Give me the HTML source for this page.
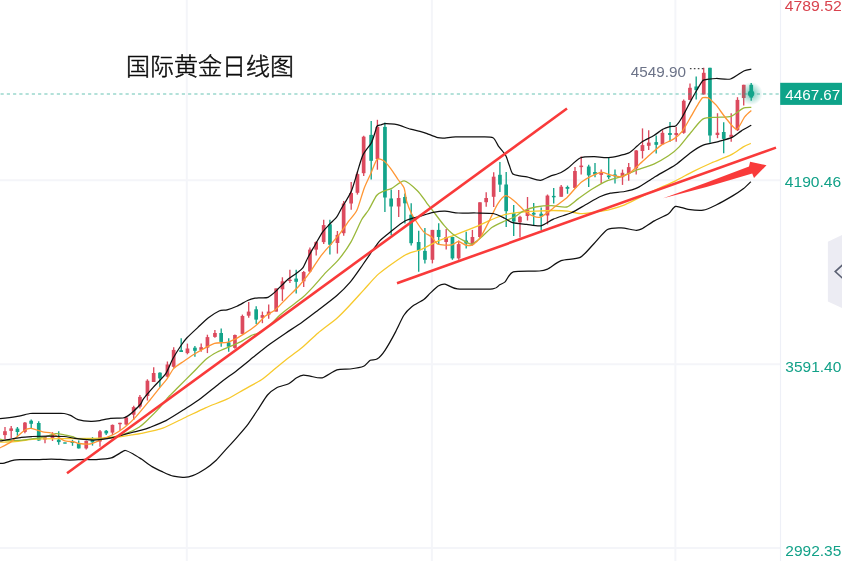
<!DOCTYPE html>
<html lang="zh-CN">
<head>
<meta charset="utf-8">
<title>国际黄金日线图</title>
<style>
html,body{margin:0;padding:0;background:#fff;}
body{width:842px;height:561px;overflow:hidden;position:relative;font-family:"Liberation Sans","Noto Sans CJK SC",sans-serif;}
svg{position:absolute;left:0;top:0;display:block;}
.title{font-family:"Liberation Sans","Noto Sans CJK SC",sans-serif;font-weight:300;font-size:24px;fill:#0d0d0d;stroke:#0d0d0d;stroke-width:0.5px;}
.ax{font-family:"Liberation Sans",sans-serif;font-size:14.5px;}
</style>
</head>
<body>
<svg width="842" height="561" viewBox="0 0 842 561">
<defs>
<radialGradient id="glow" cx="50%" cy="50%" r="50%">
<stop offset="0" stop-color="#13a48a" stop-opacity="0.6"/>
<stop offset="0.5" stop-color="#13a48a" stop-opacity="0.3"/>
<stop offset="1" stop-color="#13a48a" stop-opacity="0"/>
</radialGradient>
<filter id="gray" x="-5%" y="-5%" width="110%" height="110%" color-interpolation-filters="sRGB"><feOffset dx="0" dy="0"/></filter>
</defs>
<rect width="842" height="561" fill="#ffffff"/>

<g stroke="#f4f5f9" stroke-width="2">
<line x1="186.8" y1="0" x2="186.8" y2="561"/>
<line x1="431.9" y1="0" x2="431.9" y2="561"/>
<line x1="675.4" y1="0" x2="675.4" y2="561"/>
<line x1="0" y1="180.3" x2="780" y2="180.3"/>
<line x1="0" y1="364.3" x2="780" y2="364.3"/>
<line x1="0" y1="548.1" x2="780" y2="548.1"/>
</g>
<line x1="780.5" y1="0" x2="780.5" y2="561" stroke="#eef0f7" stroke-width="1.15"/>
<g>
<path d="M5.0,427.1V438.9" stroke="#dc4a5e" stroke-width="1.35" fill="none"/><rect x="3.1" y="431.2" width="3.7" height="3.9" fill="#dc4a5e"/>
<path d="M11.2,426.0V438.0" stroke="#dc4a5e" stroke-width="1.35" fill="none"/><rect x="9.3" y="428.4" width="3.7" height="2.5" fill="#dc4a5e"/>
<path d="M17.4,427.0V435.8" stroke="#13a48a" stroke-width="1.35" fill="none"/><rect x="15.6" y="428.6" width="3.7" height="3.4" fill="#13a48a"/>
<path d="M24.9,422.0V433.2" stroke="#dc4a5e" stroke-width="1.35" fill="none"/><rect x="23.1" y="422.6" width="3.7" height="9.3" fill="#dc4a5e"/>
<path d="M31.2,419.6V428.2" stroke="#13a48a" stroke-width="1.35" fill="none"/><rect x="29.3" y="420.7" width="3.7" height="3.1" fill="#13a48a"/>
<path d="M38.7,421.2V440.8" stroke="#13a48a" stroke-width="1.35" fill="none"/><rect x="36.9" y="423.0" width="3.7" height="17.5" fill="#13a48a"/>
<path d="M45.0,437.0V443.3" stroke="#dc4a5e" stroke-width="1.35" fill="none"/><rect x="43.1" y="437.2" width="3.7" height="2.3" fill="#dc4a5e"/>
<path d="M52.5,432.2V441.0" stroke="#dc4a5e" stroke-width="1.35" fill="none"/><rect x="50.6" y="434.8" width="3.7" height="3.2" fill="#dc4a5e"/>
<path d="M58.7,431.2V444.7" stroke="#13a48a" stroke-width="1.35" fill="none"/><rect x="56.9" y="439.6" width="3.7" height="2.5" fill="#13a48a"/>
<path d="M65.0,442.5V443.5" stroke="#13a48a" stroke-width="1.35" fill="none"/><rect x="63.1" y="442.4" width="3.7" height="1.2" fill="#13a48a"/>
<path d="M72.5,439.9V445.8" stroke="#13a48a" stroke-width="1.35" fill="none"/><rect x="70.6" y="441.2" width="3.7" height="1.8" fill="#13a48a"/>
<path d="M78.7,440.5V448.4" stroke="#13a48a" stroke-width="1.35" fill="none"/><rect x="76.9" y="443.7" width="3.7" height="4.7" fill="#13a48a"/>
<path d="M86.2,440.5V449.5" stroke="#dc4a5e" stroke-width="1.35" fill="none"/><rect x="84.4" y="441.0" width="3.7" height="7.4" fill="#dc4a5e"/>
<path d="M92.5,437.0V445.6" stroke="#13a48a" stroke-width="1.35" fill="none"/><rect x="90.6" y="439.7" width="3.7" height="2.7" fill="#13a48a"/>
<path d="M100.0,429.9V446.8" stroke="#dc4a5e" stroke-width="1.35" fill="none"/><rect x="98.1" y="431.3" width="3.7" height="10.2" fill="#dc4a5e"/>
<path d="M106.2,429.9V434.9" stroke="#13a48a" stroke-width="1.35" fill="none"/><rect x="104.4" y="430.8" width="3.7" height="2.6" fill="#13a48a"/>
<path d="M112.5,424.5V435.2" stroke="#dc4a5e" stroke-width="1.35" fill="none"/><rect x="110.6" y="424.9" width="3.7" height="7.7" fill="#dc4a5e"/>
<path d="M120.0,422.8V430.8" stroke="#dc4a5e" stroke-width="1.35" fill="none"/><rect x="118.1" y="422.8" width="3.7" height="1.4" fill="#dc4a5e"/>
<path d="M126.2,416.2V425.4" stroke="#dc4a5e" stroke-width="1.35" fill="none"/><rect x="124.4" y="417.4" width="3.7" height="7.1" fill="#dc4a5e"/>
<path d="M133.7,405.8V420.1" stroke="#dc4a5e" stroke-width="1.35" fill="none"/><rect x="131.8" y="407.1" width="3.7" height="7.6" fill="#dc4a5e"/>
<path d="M139.9,395.1V408.5" stroke="#dc4a5e" stroke-width="1.35" fill="none"/><rect x="138.1" y="396.9" width="3.7" height="9.8" fill="#dc4a5e"/>
<path d="M147.4,379.3V400.5" stroke="#dc4a5e" stroke-width="1.35" fill="none"/><rect x="145.6" y="380.7" width="3.7" height="15.3" fill="#dc4a5e"/>
<path d="M153.7,367.3V382.0" stroke="#dc4a5e" stroke-width="1.35" fill="none"/><rect x="151.8" y="373.0" width="3.7" height="9.0" fill="#dc4a5e"/>
<path d="M159.9,372.2V387.3" stroke="#13a48a" stroke-width="1.35" fill="none"/><rect x="158.1" y="372.7" width="3.7" height="5.7" fill="#13a48a"/>
<path d="M167.4,361.5V377.5" stroke="#dc4a5e" stroke-width="1.35" fill="none"/><rect x="165.6" y="364.5" width="3.7" height="12.1" fill="#dc4a5e"/>
<path d="M173.7,347.2V367.7" stroke="#dc4a5e" stroke-width="1.35" fill="none"/><rect x="171.8" y="349.9" width="3.7" height="16.9" fill="#dc4a5e"/>
<path d="M181.2,338.3V352.0" stroke="#13a48a" stroke-width="1.35" fill="none"/><rect x="179.3" y="350.2" width="3.7" height="1.8" fill="#13a48a"/>
<path d="M187.4,343.6V354.3" stroke="#dc4a5e" stroke-width="1.35" fill="none"/><rect x="185.6" y="348.5" width="3.7" height="4.6" fill="#dc4a5e"/>
<path d="M194.9,346.0V356.7" stroke="#13a48a" stroke-width="1.35" fill="none"/><rect x="193.1" y="347.7" width="3.7" height="3.1" fill="#13a48a"/>
<path d="M201.2,343.6V351.7" stroke="#dc4a5e" stroke-width="1.35" fill="none"/><rect x="199.3" y="347.2" width="3.7" height="2.7" fill="#dc4a5e"/>
<path d="M207.4,334.7V353.1" stroke="#dc4a5e" stroke-width="1.35" fill="none"/><rect x="205.6" y="337.1" width="3.7" height="10.6" fill="#dc4a5e"/>
<path d="M214.9,329.9V337.8" stroke="#dc4a5e" stroke-width="1.35" fill="none"/><rect x="213.1" y="333.0" width="3.7" height="3.9" fill="#dc4a5e"/>
<path d="M221.2,328.5V346.7" stroke="#13a48a" stroke-width="1.35" fill="none"/><rect x="219.3" y="333.0" width="3.7" height="8.9" fill="#13a48a"/>
<path d="M228.7,338.3V351.7" stroke="#13a48a" stroke-width="1.35" fill="none"/><rect x="226.8" y="342.4" width="3.7" height="4.3" fill="#13a48a"/>
<path d="M234.9,334.5V348.7" stroke="#dc4a5e" stroke-width="1.35" fill="none"/><rect x="233.1" y="335.0" width="3.7" height="12.9" fill="#dc4a5e"/>
<path d="M242.4,314.6V333.9" stroke="#dc4a5e" stroke-width="1.35" fill="none"/><rect x="240.6" y="316.0" width="3.7" height="17.9" fill="#dc4a5e"/>
<path d="M248.7,302.1V317.8" stroke="#dc4a5e" stroke-width="1.35" fill="none"/><rect x="246.8" y="311.6" width="3.7" height="4.1" fill="#dc4a5e"/>
<path d="M256.2,306.2V324.1" stroke="#13a48a" stroke-width="1.35" fill="none"/><rect x="254.3" y="309.3" width="3.7" height="10.3" fill="#13a48a"/>
<path d="M262.4,311.6V323.2" stroke="#dc4a5e" stroke-width="1.35" fill="none"/><rect x="260.6" y="315.1" width="3.7" height="2.7" fill="#dc4a5e"/>
<path d="M268.7,304.4V318.7" stroke="#dc4a5e" stroke-width="1.35" fill="none"/><rect x="266.8" y="311.6" width="3.7" height="3.0" fill="#dc4a5e"/>
<path d="M276.2,288.4V311.6" stroke="#dc4a5e" stroke-width="1.35" fill="none"/><rect x="274.3" y="288.4" width="3.7" height="23.2" fill="#dc4a5e"/>
<path d="M282.4,277.3V300.9" stroke="#dc4a5e" stroke-width="1.35" fill="none"/><rect x="280.6" y="281.3" width="3.7" height="8.0" fill="#dc4a5e"/>
<path d="M289.9,269.7V283.0" stroke="#dc4a5e" stroke-width="1.35" fill="none"/><rect x="288.1" y="279.8" width="3.7" height="1.2" fill="#dc4a5e"/>
<path d="M296.2,269.7V293.4" stroke="#13a48a" stroke-width="1.35" fill="none"/><rect x="294.3" y="278.6" width="3.7" height="3.2" fill="#13a48a"/>
<path d="M303.7,270.9V287.0" stroke="#dc4a5e" stroke-width="1.35" fill="none"/><rect x="301.8" y="272.0" width="3.7" height="9.3" fill="#dc4a5e"/>
<path d="M309.9,247.4V272.4" stroke="#dc4a5e" stroke-width="1.35" fill="none"/><rect x="308.1" y="249.6" width="3.7" height="21.9" fill="#dc4a5e"/>
<path d="M316.2,241.2V255.4" stroke="#dc4a5e" stroke-width="1.35" fill="none"/><rect x="314.3" y="242.1" width="3.7" height="7.5" fill="#dc4a5e"/>
<path d="M323.7,219.8V243.9" stroke="#dc4a5e" stroke-width="1.35" fill="none"/><rect x="321.8" y="225.1" width="3.7" height="17.0" fill="#dc4a5e"/>
<path d="M329.9,219.8V254.5" stroke="#13a48a" stroke-width="1.35" fill="none"/><rect x="328.1" y="224.3" width="3.7" height="20.4" fill="#13a48a"/>
<path d="M337.4,231.0V253.6" stroke="#dc4a5e" stroke-width="1.35" fill="none"/><rect x="335.6" y="234.9" width="3.7" height="8.1" fill="#dc4a5e"/>
<path d="M343.7,200.9V235.8" stroke="#dc4a5e" stroke-width="1.35" fill="none"/><rect x="341.8" y="203.5" width="3.7" height="29.7" fill="#dc4a5e"/>
<path d="M351.2,182.0V209.7" stroke="#dc4a5e" stroke-width="1.35" fill="none"/><rect x="349.3" y="193.0" width="3.7" height="10.5" fill="#dc4a5e"/>
<path d="M357.4,171.5V194.6" stroke="#dc4a5e" stroke-width="1.35" fill="none"/><rect x="355.6" y="174.1" width="3.7" height="18.7" fill="#dc4a5e"/>
<path d="M363.7,135.8V175.9" stroke="#dc4a5e" stroke-width="1.35" fill="none"/><rect x="361.8" y="136.7" width="3.7" height="36.5" fill="#dc4a5e"/>
<path d="M371.2,121.0V179.5" stroke="#13a48a" stroke-width="1.35" fill="none"/><rect x="369.3" y="134.9" width="3.7" height="25.9" fill="#13a48a"/>
<path d="M377.4,119.8V169.7" stroke="#dc4a5e" stroke-width="1.35" fill="none"/><rect x="375.6" y="126.9" width="3.7" height="32.1" fill="#dc4a5e"/>
<path d="M384.9,122.5V212.1" stroke="#13a48a" stroke-width="1.35" fill="none"/><rect x="383.1" y="126.9" width="3.7" height="70.6" fill="#13a48a"/>
<path d="M391.2,189.5V235.2" stroke="#13a48a" stroke-width="1.35" fill="none"/><rect x="389.3" y="198.5" width="3.7" height="8.0" fill="#13a48a"/>
<path d="M398.7,190.0V217.1" stroke="#dc4a5e" stroke-width="1.35" fill="none"/><rect x="396.8" y="198.0" width="3.7" height="8.5" fill="#dc4a5e"/>
<path d="M404.9,193.4V223.6" stroke="#13a48a" stroke-width="1.35" fill="none"/><rect x="403.1" y="197.0" width="3.7" height="6.3" fill="#13a48a"/>
<path d="M411.2,203.2V245.6" stroke="#13a48a" stroke-width="1.35" fill="none"/><rect x="409.3" y="214.7" width="3.7" height="28.5" fill="#13a48a"/>
<path d="M418.7,230.8V271.7" stroke="#13a48a" stroke-width="1.35" fill="none"/><rect x="416.8" y="242.0" width="3.7" height="8.4" fill="#13a48a"/>
<path d="M424.9,228.1V263.4" stroke="#13a48a" stroke-width="1.35" fill="none"/><rect x="423.1" y="250.9" width="3.7" height="8.9" fill="#13a48a"/>
<path d="M432.4,229.9V263.4" stroke="#dc4a5e" stroke-width="1.35" fill="none"/><rect x="430.6" y="229.9" width="3.7" height="29.9" fill="#dc4a5e"/>
<path d="M438.7,223.3V244.5" stroke="#13a48a" stroke-width="1.35" fill="none"/><rect x="436.8" y="229.9" width="3.7" height="7.1" fill="#13a48a"/>
<path d="M446.2,229.0V249.5" stroke="#dc4a5e" stroke-width="1.35" fill="none"/><rect x="444.3" y="237.0" width="3.7" height="5.0" fill="#dc4a5e"/>
<path d="M452.4,236.7V259.8" stroke="#13a48a" stroke-width="1.35" fill="none"/><rect x="450.6" y="237.0" width="3.7" height="21.4" fill="#13a48a"/>
<path d="M458.7,240.6V259.8" stroke="#dc4a5e" stroke-width="1.35" fill="none"/><rect x="456.8" y="244.1" width="3.7" height="14.3" fill="#dc4a5e"/>
<path d="M466.2,231.7V248.6" stroke="#13a48a" stroke-width="1.35" fill="none"/><rect x="464.3" y="240.6" width="3.7" height="2.9" fill="#13a48a"/>
<path d="M472.4,229.9V245.5" stroke="#dc4a5e" stroke-width="1.35" fill="none"/><rect x="470.6" y="237.0" width="3.7" height="7.5" fill="#dc4a5e"/>
<path d="M479.9,202.3V237.9" stroke="#dc4a5e" stroke-width="1.35" fill="none"/><rect x="478.1" y="202.3" width="3.7" height="34.7" fill="#dc4a5e"/>
<path d="M486.2,192.2V206.8" stroke="#dc4a5e" stroke-width="1.35" fill="none"/><rect x="484.3" y="198.0" width="3.7" height="4.2" fill="#dc4a5e"/>
<path d="M493.7,172.3V207.0" stroke="#dc4a5e" stroke-width="1.35" fill="none"/><rect x="491.8" y="176.7" width="3.7" height="20.1" fill="#dc4a5e"/>
<path d="M499.9,162.0V192.0" stroke="#13a48a" stroke-width="1.35" fill="none"/><rect x="498.1" y="174.8" width="3.7" height="9.8" fill="#13a48a"/>
<path d="M506.2,172.0V227.0" stroke="#13a48a" stroke-width="1.35" fill="none"/><rect x="504.3" y="184.5" width="3.7" height="26.7" fill="#13a48a"/>
<path d="M513.7,205.0V236.0" stroke="#13a48a" stroke-width="1.35" fill="none"/><rect x="511.9" y="213.2" width="3.7" height="8.3" fill="#13a48a"/>
<path d="M520.0,215.7V237.6" stroke="#dc4a5e" stroke-width="1.35" fill="none"/><rect x="518.1" y="216.8" width="3.7" height="5.5" fill="#dc4a5e"/>
<path d="M527.5,197.0V220.5" stroke="#dc4a5e" stroke-width="1.35" fill="none"/><rect x="525.6" y="209.8" width="3.7" height="6.2" fill="#dc4a5e"/>
<path d="M533.7,203.0V225.1" stroke="#13a48a" stroke-width="1.35" fill="none"/><rect x="531.9" y="212.8" width="3.7" height="1.8" fill="#13a48a"/>
<path d="M541.2,207.5V230.0" stroke="#13a48a" stroke-width="1.35" fill="none"/><rect x="539.4" y="213.7" width="3.7" height="2.7" fill="#13a48a"/>
<path d="M547.5,194.5V224.4" stroke="#dc4a5e" stroke-width="1.35" fill="none"/><rect x="545.6" y="195.6" width="3.7" height="19.9" fill="#dc4a5e"/>
<path d="M553.7,187.9V203.4" stroke="#13a48a" stroke-width="1.35" fill="none"/><rect x="551.9" y="195.9" width="3.7" height="1.4" fill="#13a48a"/>
<path d="M561.2,184.9V196.8" stroke="#dc4a5e" stroke-width="1.35" fill="none"/><rect x="559.4" y="186.7" width="3.7" height="10.1" fill="#dc4a5e"/>
<path d="M567.5,185.6V193.8" stroke="#13a48a" stroke-width="1.35" fill="none"/><rect x="565.6" y="187.0" width="3.7" height="1.8" fill="#13a48a"/>
<path d="M575.0,167.1V188.8" stroke="#dc4a5e" stroke-width="1.35" fill="none"/><rect x="573.1" y="171.0" width="3.7" height="16.9" fill="#dc4a5e"/>
<path d="M581.2,156.4V174.5" stroke="#dc4a5e" stroke-width="1.35" fill="none"/><rect x="579.4" y="165.6" width="3.7" height="1.5" fill="#dc4a5e"/>
<path d="M588.7,164.7V187.0" stroke="#13a48a" stroke-width="1.35" fill="none"/><rect x="586.9" y="166.5" width="3.7" height="8.9" fill="#13a48a"/>
<path d="M595.0,163.0V177.2" stroke="#13a48a" stroke-width="1.35" fill="none"/><rect x="593.1" y="172.0" width="3.7" height="2.5" fill="#13a48a"/>
<path d="M601.2,169.6V183.4" stroke="#dc4a5e" stroke-width="1.35" fill="none"/><rect x="599.4" y="171.9" width="3.7" height="3.0" fill="#dc4a5e"/>
<path d="M608.7,157.6V179.0" stroke="#13a48a" stroke-width="1.35" fill="none"/><rect x="606.9" y="175.4" width="3.7" height="1.8" fill="#13a48a"/>
<path d="M615.0,169.6V183.4" stroke="#13a48a" stroke-width="1.35" fill="none"/><rect x="613.1" y="174.5" width="3.7" height="1.8" fill="#13a48a"/>
<path d="M622.5,169.6V184.9" stroke="#dc4a5e" stroke-width="1.35" fill="none"/><rect x="620.6" y="172.8" width="3.7" height="4.4" fill="#dc4a5e"/>
<path d="M628.7,163.0V180.8" stroke="#dc4a5e" stroke-width="1.35" fill="none"/><rect x="626.9" y="167.1" width="3.7" height="6.5" fill="#dc4a5e"/>
<path d="M636.2,150.0V174.5" stroke="#dc4a5e" stroke-width="1.35" fill="none"/><rect x="634.4" y="150.5" width="3.7" height="17.8" fill="#dc4a5e"/>
<path d="M642.5,128.4V158.5" stroke="#dc4a5e" stroke-width="1.35" fill="none"/><rect x="640.6" y="145.1" width="3.7" height="5.9" fill="#dc4a5e"/>
<path d="M648.7,130.2V150.0" stroke="#dc4a5e" stroke-width="1.35" fill="none"/><rect x="646.9" y="142.6" width="3.7" height="3.2" fill="#dc4a5e"/>
<path d="M656.2,135.4V153.5" stroke="#13a48a" stroke-width="1.35" fill="none"/><rect x="654.4" y="142.1" width="3.7" height="2.7" fill="#13a48a"/>
<path d="M662.5,130.2V144.4" stroke="#dc4a5e" stroke-width="1.35" fill="none"/><rect x="660.6" y="132.8" width="3.7" height="11.6" fill="#dc4a5e"/>
<path d="M670.0,122.0V141.7" stroke="#13a48a" stroke-width="1.35" fill="none"/><rect x="668.1" y="133.0" width="3.7" height="2.0" fill="#13a48a"/>
<path d="M676.2,126.9V141.7" stroke="#dc4a5e" stroke-width="1.35" fill="none"/><rect x="674.4" y="133.0" width="3.7" height="2.0" fill="#dc4a5e"/>
<path d="M683.7,99.5V133.7" stroke="#dc4a5e" stroke-width="1.35" fill="none"/><rect x="681.9" y="100.8" width="3.7" height="32.0" fill="#dc4a5e"/>
<path d="M690.0,83.5V100.2" stroke="#dc4a5e" stroke-width="1.35" fill="none"/><rect x="688.1" y="87.8" width="3.7" height="12.1" fill="#dc4a5e"/>
<path d="M696.2,76.4V99.5" stroke="#13a48a" stroke-width="1.35" fill="none"/><rect x="694.4" y="86.5" width="3.7" height="3.6" fill="#13a48a"/>
<path d="M703.7,67.8V94.5" stroke="#dc4a5e" stroke-width="1.35" fill="none"/><rect x="701.9" y="72.8" width="3.7" height="21.7" fill="#dc4a5e"/>
<path d="M710.0,67.8V142.7" stroke="#13a48a" stroke-width="1.35" fill="none"/><rect x="708.1" y="67.8" width="3.7" height="67.7" fill="#13a48a"/>
<path d="M717.5,113.2V138.2" stroke="#dc4a5e" stroke-width="1.35" fill="none"/><rect x="715.6" y="132.7" width="3.7" height="2.3" fill="#dc4a5e"/>
<path d="M723.7,122.2V153.2" stroke="#13a48a" stroke-width="1.35" fill="none"/><rect x="721.9" y="132.0" width="3.7" height="6.9" fill="#13a48a"/>
<path d="M731.2,113.2V141.7" stroke="#dc4a5e" stroke-width="1.35" fill="none"/><rect x="729.4" y="134.8" width="3.7" height="2.2" fill="#dc4a5e"/>
<path d="M737.5,97.2V131.0" stroke="#dc4a5e" stroke-width="1.35" fill="none"/><rect x="735.6" y="99.9" width="3.7" height="30.3" fill="#dc4a5e"/>
<path d="M743.7,84.8V105.5" stroke="#dc4a5e" stroke-width="1.35" fill="none"/><rect x="741.9" y="84.8" width="3.7" height="13.2" fill="#dc4a5e"/>
<path d="M751.2,83.0V100.7" stroke="#13a48a" stroke-width="1.35" fill="none"/><rect x="749.4" y="84.8" width="3.7" height="12.8" fill="#13a48a"/>
</g>
<path d="M0.0,442.1C1.3,442.1 8.1,442.1 10.7,441.9C13.3,441.7 18.8,441.1 21.4,440.8C24.0,440.5 29.5,439.6 32.1,439.4C34.7,439.2 39.0,439.0 42.8,438.9C46.6,438.8 58.4,438.6 64.1,438.6C69.8,438.6 85.7,438.6 90.0,438.5C94.3,438.4 96.5,438.3 99.8,438.1C103.1,437.9 113.8,437.4 117.6,437.0C121.4,436.6 128.9,435.3 131.8,434.9C134.7,434.5 137.7,434.2 141.4,433.4C145.1,432.6 157.7,429.9 162.8,428.1C167.9,426.3 179.0,420.4 184.1,418.0C189.2,415.6 200.4,410.1 205.5,407.8C210.6,405.5 222.3,401.4 226.9,399.2C231.5,397.0 239.9,391.9 244.0,389.6C248.1,387.3 258.0,382.0 261.1,380.0C264.2,378.0 267.0,375.4 270.0,373.0C273.0,370.6 282.1,362.7 286.0,359.7C289.9,356.7 298.2,350.8 302.1,347.6C306.0,344.4 313.9,336.4 318.1,332.9C322.3,329.4 333.0,321.6 336.9,318.2C340.8,314.8 347.0,308.2 350.2,304.8C353.4,301.4 360.4,293.6 363.6,290.1C366.8,286.6 374.0,278.3 377.0,275.4C380.0,272.5 386.0,268.2 389.0,266.0C392.0,263.8 399.9,258.3 402.4,256.7C404.9,255.1 407.8,253.7 410.0,252.8C412.2,251.9 417.5,251.0 421.0,249.5C424.5,248.0 434.5,242.4 438.8,240.6C443.1,238.8 452.1,236.0 456.6,234.3C461.1,232.6 472.1,228.4 476.2,226.7C480.3,225.0 487.1,221.5 490.5,220.1C493.9,218.7 501.3,215.6 504.7,214.7C508.1,213.8 515.3,212.8 519.0,212.4C522.7,212.0 531.5,211.3 535.6,211.1C539.7,210.9 549.5,210.5 553.4,210.5C557.3,210.5 564.5,210.7 567.7,211.1C570.9,211.5 576.8,213.6 580.2,213.7C583.6,213.8 592.6,212.4 596.2,211.9C599.8,211.4 607.1,210.2 610.5,209.3C613.9,208.4 621.2,206.2 624.7,204.8C628.2,203.4 636.0,199.2 640.0,197.3C644.0,195.4 653.5,190.8 657.8,188.8C662.1,186.8 671.3,182.9 675.6,180.8C679.9,178.7 689.1,173.4 693.4,171.3C697.7,169.2 706.8,165.0 711.3,163.0C715.8,161.0 727.1,156.8 730.9,154.9C734.7,153.0 740.9,148.3 743.3,146.9C745.7,145.5 749.9,143.8 750.8,143.4" fill="none" stroke="#f7c92c" stroke-width="1.3" stroke-linejoin="round"/>
<path d="M0.0,439.1C0.5,439.3 2.9,440.2 4.3,440.4C5.7,440.6 9.5,440.7 12.0,440.6C14.5,440.5 21.9,440.1 25.0,439.8C28.1,439.5 35.4,438.6 38.0,438.2C40.6,437.8 44.9,436.7 47.0,436.2C49.1,435.7 53.5,433.9 55.6,433.7C57.7,433.5 62.0,434.4 64.1,434.8C66.2,435.2 71.0,436.2 72.7,436.7C74.4,437.2 75.9,438.3 78.0,438.6C80.1,438.9 87.4,439.3 90.0,439.4C92.6,439.5 96.9,439.4 99.8,439.1C102.7,438.8 110.6,437.8 114.0,437.0C117.4,436.2 125.3,433.8 128.3,432.6C131.3,431.4 136.9,428.5 139.0,427.2C141.1,425.9 143.4,423.9 145.7,421.7C148.0,419.5 155.8,411.9 158.5,408.9C161.2,405.9 165.9,399.7 168.3,397.1C170.7,394.5 175.2,390.2 178.1,387.3C181.0,384.4 189.0,376.4 192.4,373.0C195.8,369.6 203.6,361.3 206.6,358.8C209.6,356.3 214.5,353.5 217.3,352.0C220.1,350.5 227.0,347.9 229.8,346.7C232.6,345.5 237.9,343.2 240.5,341.9C243.1,340.6 249.0,336.7 251.1,335.6C253.2,334.5 256.0,334.3 258.3,333.0C260.6,331.7 267.4,327.2 270.0,325.0C272.6,322.8 277.5,317.3 280.0,315.0C282.5,312.7 288.5,308.3 291.2,306.2C293.9,304.1 300.1,299.7 302.8,297.3C305.5,294.9 310.6,289.6 313.4,286.6C316.2,283.6 322.9,275.6 325.9,272.4C328.9,269.2 335.4,263.5 338.4,259.9C341.4,256.3 348.1,246.9 350.9,242.1C353.7,237.3 359.5,223.7 361.6,219.8C363.7,215.9 366.8,212.9 368.6,210.0C370.4,207.1 374.8,197.8 376.6,195.5C378.4,193.2 381.9,192.0 383.7,191.1C385.5,190.2 389.3,189.6 391.8,188.4C394.3,187.2 401.1,180.6 404.2,180.9C407.3,181.2 414.7,188.1 417.4,190.7C420.1,193.3 424.2,199.5 426.3,202.3C428.4,205.1 433.1,211.1 435.2,213.9C437.3,216.7 442.0,223.0 444.1,225.4C446.2,227.8 450.6,232.5 453.0,234.3C455.4,236.1 461.4,239.4 463.7,240.6C466.0,241.8 469.7,244.5 471.8,244.1C473.9,243.7 479.2,239.0 481.6,237.0C484.0,235.0 489.4,229.1 492.2,227.2C495.0,225.3 501.9,222.3 504.7,221.0C507.5,219.7 513.2,217.7 515.4,216.5C517.6,215.3 520.8,212.2 523.2,211.1C525.6,210.0 532.2,207.6 535.6,207.0C539.0,206.4 548.0,205.7 551.7,205.7C555.4,205.7 563.6,207.9 566.8,207.0C570.0,206.1 575.3,200.8 578.4,198.6C581.5,196.4 589.2,190.9 592.6,188.8C596.0,186.7 603.5,182.3 606.9,180.8C610.3,179.3 617.7,177.9 621.1,176.7C624.5,175.5 631.4,172.1 635.4,170.6C639.4,169.1 650.3,165.6 654.3,163.8C658.3,162.0 665.5,157.8 668.5,155.8C671.5,153.8 676.5,149.8 679.2,146.9C681.9,144.0 688.5,135.3 691.3,132.0C694.1,128.7 699.8,120.9 702.8,119.1C705.8,117.3 712.8,117.6 716.2,117.3C719.6,117.0 728.1,117.4 731.3,116.3C734.5,115.2 740.5,109.5 742.9,108.4C745.3,107.3 750.3,107.5 751.3,107.4" fill="none" stroke="#9ab83a" stroke-width="1.3" stroke-linejoin="round"/>
<path d="M0.0,447.9C1.3,447.2 8.5,443.6 10.7,442.1C12.9,440.6 16.5,437.1 18.2,435.7C19.9,434.3 23.1,431.2 24.6,430.3C26.1,429.4 29.1,428.5 30.5,428.4C31.9,428.3 34.8,429.4 36.3,429.8C37.8,430.2 41.0,431.5 42.8,431.9C44.6,432.3 49.5,432.4 51.3,433.0C53.1,433.6 56.2,435.8 57.7,436.7C59.2,437.6 62.0,439.9 64.1,440.5C66.2,441.1 73.0,441.7 74.8,442.1C76.6,442.5 77.3,443.3 79.1,443.5C80.9,443.7 88.1,444.1 90.0,444.0C91.9,443.9 93.4,442.9 95.0,442.3C96.6,441.7 101.0,439.8 103.3,438.8C105.6,437.8 111.4,435.7 114.0,434.3C116.6,432.9 122.1,429.2 124.7,427.2C127.3,425.2 132.4,420.7 135.4,417.4C138.4,414.1 147.1,403.5 150.0,400.0C152.9,396.5 157.3,390.8 159.4,388.2C161.5,385.6 165.7,380.8 167.4,378.4C169.1,376.0 171.7,370.6 173.6,368.6C175.5,366.6 180.9,363.2 183.4,361.5C185.9,359.8 191.5,355.9 194.1,354.3C196.7,352.7 202.3,349.4 204.8,348.1C207.3,346.8 211.9,344.0 214.6,343.3C217.3,342.6 224.6,342.9 227.1,342.4C229.6,341.9 233.1,340.2 235.1,339.2C237.1,338.2 241.5,335.5 244.0,333.9C246.5,332.3 253.0,327.9 255.6,325.8C258.2,323.7 263.1,317.9 265.4,316.0C267.7,314.1 272.5,312.1 275.1,310.0C277.7,307.9 283.8,301.1 286.7,298.2C289.6,295.3 296.4,288.8 299.2,285.7C302.0,282.6 307.3,275.9 309.9,272.4C312.5,268.9 318.0,259.7 320.6,256.3C323.2,252.9 328.9,246.6 331.3,243.8C333.7,241.0 338.1,236.0 340.2,233.2C342.3,230.4 347.1,223.5 349.1,220.7C351.1,217.9 355.2,213.9 357.0,210.0C358.8,206.1 362.4,192.9 364.1,188.4C365.8,183.9 369.8,175.9 371.3,172.4C372.8,168.9 375.5,160.9 377.0,159.5C378.5,158.1 382.0,159.7 383.7,160.8C385.4,161.9 389.2,166.6 390.9,168.8C392.6,171.0 396.4,177.2 398.0,179.5C399.6,181.8 403.1,185.4 404.1,188.0C405.1,190.6 405.8,198.4 406.7,201.4C407.6,204.4 409.8,210.2 411.2,213.0C412.6,215.8 416.7,222.1 418.3,224.5C419.9,226.9 422.9,231.1 424.5,232.6C426.1,234.1 430.1,235.6 431.7,237.0C433.3,238.4 435.5,243.1 437.9,244.1C440.3,245.1 448.8,245.3 451.3,245.0C453.8,244.7 456.7,241.5 458.4,241.5C460.1,241.5 463.8,244.6 465.5,245.0C467.2,245.4 470.8,246.0 472.6,245.0C474.4,244.0 478.8,239.8 480.7,237.0C482.6,234.2 486.7,225.8 488.7,221.9C490.7,218.0 495.6,207.2 497.6,204.1C499.6,201.0 503.6,196.1 505.6,195.7C507.6,195.3 512.0,199.1 514.3,200.9C516.6,202.7 522.6,209.2 524.9,211.1C527.2,213.0 532.0,215.7 533.8,216.4C535.6,217.1 538.5,217.7 540.1,217.3C541.7,216.9 545.4,214.1 547.2,212.8C549.0,211.5 553.0,208.3 555.2,206.6C557.4,204.9 563.5,200.7 565.9,198.6C568.3,196.5 572.9,190.8 574.8,188.8C576.7,186.8 580.0,183.2 581.9,181.7C583.8,180.2 588.5,177.4 590.9,176.3C593.3,175.2 599.1,172.6 601.5,172.4C603.9,172.2 608.1,174.4 610.5,174.9C612.9,175.4 618.7,177.0 621.1,176.7C623.5,176.4 628.0,174.2 630.1,172.8C632.2,171.4 636.5,166.9 639.0,164.7C641.5,162.5 648.0,156.5 650.7,154.1C653.4,151.7 658.6,146.9 661.4,145.1C664.2,143.3 671.4,140.6 673.9,138.9C676.4,137.2 680.3,133.9 682.4,131.1C684.5,128.3 689.4,119.2 691.3,115.9C693.2,112.6 697.2,105.6 698.4,103.6C699.6,101.6 700.7,100.0 701.2,99.3C701.7,98.6 702.3,97.9 702.8,97.7C703.3,97.5 704.8,97.5 705.5,97.5C706.2,97.5 707.7,97.5 708.3,97.8C708.9,98.1 709.6,98.7 710.5,99.6C711.4,100.5 714.2,102.8 716.2,105.2C718.2,107.6 724.4,116.6 726.9,119.5C729.4,122.4 734.6,129.6 736.7,129.3C738.8,129.0 742.9,119.0 744.7,116.8C746.5,114.6 750.5,111.3 751.3,110.6" fill="none" stroke="#ff9633" stroke-width="1.3" stroke-linejoin="round"/>
<path d="M0.0,418.6C1.9,418.4 12.4,417.2 16.0,416.6C19.6,416.0 27.5,413.9 29.9,413.5C32.3,413.1 33.9,413.4 36.0,413.4C38.1,413.4 44.4,413.4 47.0,413.4C49.6,413.4 55.9,413.4 58.0,413.4C60.1,413.4 62.6,413.3 64.1,413.5C65.6,413.7 68.8,414.6 70.5,415.3C72.2,416.0 75.6,418.9 78.0,419.6C80.4,420.3 88.3,421.3 90.9,421.4C93.5,421.5 97.4,421.0 99.8,420.6C102.2,420.2 107.7,418.6 110.5,418.3C113.3,418.0 120.9,418.3 123.0,418.0C125.1,417.7 127.0,416.4 128.3,415.6C129.6,414.8 132.1,412.6 133.6,411.2C135.1,409.8 139.5,405.5 140.7,404.0C141.9,402.5 141.9,400.9 143.4,398.9C144.9,396.9 150.5,390.3 153.2,387.3C155.9,384.3 163.2,377.3 165.6,373.9C168.0,370.5 170.9,362.3 172.8,358.8C174.7,355.3 180.0,347.0 181.7,344.5C183.4,342.0 185.1,339.8 187.0,337.8C188.9,335.8 195.1,330.0 197.7,327.6C200.3,325.2 205.8,319.8 208.4,317.8C211.0,315.8 216.9,312.0 219.1,311.0C221.3,310.0 225.0,310.4 227.1,309.8C229.2,309.2 234.4,307.3 236.9,306.2C239.4,305.1 245.4,301.5 247.6,300.5C249.8,299.5 253.5,298.5 255.0,298.2C256.5,297.9 258.4,297.9 260.0,297.8C261.6,297.7 266.1,298.1 268.0,297.3C269.9,296.5 273.8,293.1 276.0,291.1C278.2,289.1 284.2,282.5 286.7,280.4C289.2,278.3 294.6,274.7 296.5,273.2C298.4,271.7 301.4,269.8 302.8,267.9C304.2,266.0 306.6,260.0 308.1,257.2C309.6,254.4 313.5,247.7 315.2,244.7C316.9,241.7 320.7,234.7 322.4,232.3C324.1,229.9 327.8,226.1 329.5,224.3C331.2,222.5 335.2,218.9 336.6,217.1C338.0,215.3 339.3,212.2 341.1,209.0C342.9,205.8 349.1,196.5 351.7,190.2C354.3,183.9 360.0,162.0 362.4,156.3C364.8,150.6 369.8,146.0 371.3,143.0C372.8,140.0 374.6,133.5 375.3,131.5C376.0,129.5 376.2,127.1 376.8,126.3C377.4,125.5 379.5,125.3 380.5,125.0C381.5,124.7 383.9,123.8 385.0,123.7C386.1,123.6 388.5,123.7 390.0,123.8C391.5,123.9 394.6,124.0 397.1,124.6C399.6,125.2 407.8,128.4 410.5,129.2C413.2,130.0 418.0,130.8 420.0,131.3C422.0,131.8 425.0,132.8 427.1,133.6C429.2,134.4 435.7,137.2 437.8,137.7C439.9,138.2 442.8,138.2 444.9,138.1C447.0,138.0 451.3,137.0 455.6,136.9C459.9,136.8 476.1,136.8 480.6,136.9C485.1,137.0 490.9,136.6 493.0,137.7C495.1,138.8 496.9,144.0 498.4,146.1C499.9,148.2 504.2,152.8 505.5,155.0C506.8,157.2 508.2,162.6 509.1,164.8C510.0,167.0 511.3,172.4 512.6,173.7C513.9,175.0 518.1,175.5 519.8,175.9C521.5,176.3 524.4,176.4 526.9,176.9C529.4,177.4 537.5,180.4 540.3,180.3C543.1,180.2 547.5,177.2 549.9,176.3C552.3,175.4 558.5,173.8 560.6,172.8C562.7,171.8 565.3,170.1 567.7,168.3C570.1,166.5 577.0,159.4 580.2,158.0C583.4,156.6 591.0,156.7 594.4,156.7C597.8,156.7 604.6,158.0 608.7,157.6C612.8,157.2 624.9,154.6 628.3,153.2C631.7,151.8 635.5,147.4 637.2,146.0C638.9,144.6 640.5,142.8 642.5,141.5C644.5,140.2 651.5,137.0 653.9,135.5C656.3,134.0 660.9,130.4 662.8,129.3C664.7,128.2 668.3,127.0 669.9,126.6C671.5,126.2 674.6,126.9 676.1,125.7C677.6,124.5 680.6,119.9 682.4,116.8C684.2,113.7 689.4,103.4 691.3,99.9C693.2,96.4 697.2,89.5 698.4,87.4C699.6,85.3 700.9,83.2 701.5,82.4C702.1,81.6 702.5,80.7 703.0,80.4C703.5,80.1 704.4,79.8 706.0,79.6C707.6,79.4 713.3,78.6 716.2,78.5C719.1,78.4 727.2,79.9 730.5,79.0C733.8,78.1 741.3,72.2 743.8,71.0C746.3,69.8 750.4,69.4 751.3,69.2" fill="none" stroke="#111" stroke-width="1.25" stroke-linejoin="round"/>
<path d="M0.0,441.0C1.3,440.8 8.1,439.5 10.7,439.1C13.3,438.7 18.8,437.6 21.4,437.3C24.0,437.0 28.9,436.7 32.1,436.5C35.3,436.3 44.3,436.0 48.1,436.0C51.9,436.0 60.9,436.2 64.1,436.5C67.3,436.8 71.7,437.9 74.8,438.3C77.9,438.7 87.0,439.7 90.0,439.9C93.0,440.1 96.9,440.0 99.8,439.7C102.7,439.4 110.6,438.2 114.0,437.4C117.4,436.6 125.0,434.3 128.3,433.4C131.6,432.5 138.8,430.9 141.4,430.2C144.0,429.5 147.0,428.6 150.0,427.4C153.0,426.2 161.9,422.7 166.0,420.6C170.1,418.5 180.2,412.0 184.1,409.5C188.0,407.0 194.4,403.1 198.6,400.0C202.8,396.9 214.5,387.3 219.1,383.7C223.7,380.1 232.6,373.7 236.9,370.4C241.2,367.1 250.7,359.3 254.7,356.1C258.7,352.9 266.2,346.9 270.0,344.1C273.8,341.3 282.1,335.5 286.0,332.9C289.9,330.3 298.2,324.9 302.1,322.2C306.0,319.5 313.9,313.4 318.1,310.2C322.3,307.0 333.0,298.9 336.9,295.5C340.8,292.1 347.3,285.5 350.2,282.1C353.1,278.7 358.2,271.3 360.9,267.4C363.6,263.5 370.7,253.2 373.0,250.0C375.3,246.8 377.9,242.8 380.0,240.6C382.1,238.4 387.7,234.1 390.7,231.7C393.7,229.3 401.5,222.8 404.9,221.0C408.3,219.2 415.8,217.5 419.2,216.5C422.6,215.5 430.3,213.0 433.4,212.4C436.5,211.8 442.0,211.1 445.0,211.2C448.0,211.3 454.7,212.8 458.4,213.0C462.1,213.2 472.0,212.9 476.2,213.0C480.4,213.1 489.7,212.9 493.1,213.5C496.5,214.1 502.4,217.2 504.7,218.3C507.0,219.4 509.9,221.9 512.5,222.6C515.1,223.3 523.3,224.0 526.7,224.4C530.1,224.8 537.8,226.4 541.0,225.8C544.2,225.2 549.8,220.7 553.4,219.1C557.0,217.5 567.4,214.5 571.3,212.8C575.2,211.1 582.1,206.7 585.5,204.8C588.9,202.9 596.8,198.2 599.8,196.8C602.8,195.4 607.5,193.8 610.5,193.2C613.5,192.6 621.5,192.1 624.7,191.5C627.9,190.9 633.6,189.6 637.2,187.9C640.8,186.2 649.7,180.0 654.3,177.2C658.9,174.4 671.3,167.6 675.6,164.7C679.9,161.8 686.6,155.6 689.9,153.2C693.2,150.8 699.8,146.5 703.2,145.1C706.6,143.7 714.9,142.6 718.4,141.6C721.9,140.6 729.9,138.4 732.6,137.1C735.3,135.8 738.9,132.5 741.1,131.1C743.3,129.7 750.1,125.9 751.3,125.2" fill="none" stroke="#111" stroke-width="1.25" stroke-linejoin="round"/>
<path d="M0.0,463.4C0.5,463.4 2.6,463.5 4.3,463.1C6.0,462.7 11.8,460.6 13.9,460.2C16.0,459.8 18.6,459.8 21.4,459.7C24.2,459.6 33.8,459.8 37.4,459.7C41.0,459.6 47.4,459.0 51.3,459.0C55.2,459.0 65.4,460.0 69.5,460.0C73.6,460.0 82.3,459.4 85.5,459.4C88.7,459.4 93.1,459.8 96.2,459.6C99.3,459.4 108.4,458.7 111.3,457.9C114.2,457.1 118.3,454.0 120.0,453.1C121.7,452.2 123.8,450.4 125.3,450.5C126.8,450.6 130.9,452.7 132.8,453.7C134.7,454.7 139.1,457.6 141.4,459.1C143.7,460.6 149.5,465.1 152.1,466.6C154.7,468.1 160.2,470.7 162.8,471.9C165.4,473.1 170.8,475.6 173.4,476.2C176.0,476.8 181.8,477.4 184.1,477.3C186.4,477.2 190.1,476.6 192.7,475.6C195.3,474.6 202.7,470.5 205.5,468.7C208.3,466.9 213.6,462.6 216.2,460.2C218.8,457.8 224.3,451.2 226.9,448.4C229.5,445.6 235.0,439.6 237.6,436.6C240.2,433.6 245.7,427.3 248.3,423.8C250.9,420.3 256.7,411.3 259.0,407.8C261.3,404.3 265.4,397.4 267.5,395.0C269.6,392.6 274.2,389.1 276.7,387.7C279.2,386.3 286.3,384.9 288.7,383.7C291.1,382.5 294.9,378.8 296.7,377.8C298.5,376.8 301.8,375.4 303.4,375.2C305.0,375.0 307.8,375.9 310.1,376.2C312.4,376.5 319.0,378.6 322.2,377.8C325.4,377.0 333.5,370.9 336.9,369.8C340.3,368.7 347.0,369.4 350.2,369.0C353.4,368.6 361.2,367.4 363.6,366.3C366.0,365.2 368.7,361.1 370.3,360.2C371.9,359.3 375.2,360.3 377.0,359.1C378.8,357.9 382.8,353.6 385.0,350.3C387.2,347.0 393.5,335.8 395.7,331.6C397.9,327.4 401.8,318.5 403.7,315.5C405.6,312.5 409.4,308.6 411.8,306.7C414.2,304.8 421.6,301.1 423.8,299.5C426.0,297.9 428.3,295.0 430.0,293.4C431.7,291.8 436.4,287.1 438.2,286.0C440.0,284.9 442.7,283.8 445.0,284.1C447.3,284.4 451.6,288.2 457.3,288.8C463.0,289.4 487.7,289.3 492.8,288.8C497.9,288.3 498.2,285.5 499.7,284.7C501.2,283.9 503.5,283.4 505.1,281.9C506.7,280.4 509.2,273.1 513.3,271.8C517.4,270.5 535.2,271.3 539.3,271.0C543.4,270.7 544.9,270.3 547.5,269.1C550.1,267.9 557.2,262.0 561.1,260.6C565.0,259.2 576.3,259.4 580.2,257.4C584.1,255.4 590.6,247.0 593.9,243.7C597.2,240.4 604.2,231.4 607.5,229.5C610.8,227.6 617.8,227.8 621.2,227.9C624.6,228.0 633.7,230.2 636.2,230.3C638.7,230.4 639.5,230.0 641.7,228.9C643.9,227.8 651.1,222.7 654.3,220.9C657.5,219.1 665.9,215.5 668.5,213.7C671.1,211.9 673.2,206.8 675.6,206.3C678.0,205.8 684.8,208.8 688.1,209.3C691.4,209.8 699.8,210.7 703.2,210.2C706.6,209.7 713.1,206.5 716.6,204.8C720.1,203.1 729.4,197.8 732.6,195.9C735.8,194.0 741.1,190.5 743.3,188.8C745.5,187.1 749.9,182.6 750.8,181.7" fill="none" stroke="#111" stroke-width="1.25" stroke-linejoin="round"/>
<line x1="0" y1="93.9" x2="781" y2="93.9" stroke="#12a188" stroke-opacity="0.43" stroke-width="1.55" stroke-dasharray="3.15 3.1" stroke-dashoffset="-0.57"/>
<line x1="67" y1="473.3" x2="567" y2="108.5" stroke="#f93a3a" stroke-width="2.6"/>
<line x1="397" y1="283.2" x2="776" y2="147.6" stroke="#f93a3a" stroke-width="2.6"/>
<path d="M663.2,198.2 Q705,183.5 749,166.5 L750.1,161.7 L766.5,165.3 L754,178.1 L752.2,173.6 Q708,187.5 663.2,198.2Z" fill="#f93a3a"/>
<circle cx="751.1" cy="93.6" r="11.6" fill="url(#glow)"/>
<circle cx="751.1" cy="93.6" r="3.2" fill="#13a48a"/>
<g filter="url(#gray)"><text x="630.7" y="77.3" class="ax" style="font-size:14.2px" fill="#6c7388" textLength="55.2" lengthAdjust="spacingAndGlyphs">4549.90</text></g>
<line x1="689.9" y1="68.6" x2="704" y2="68.6" stroke="#444" stroke-width="1.2" stroke-dasharray="1.6 2.35"/>
<g filter="url(#gray)"><text x="126" y="74.6" class="title" textLength="168" lengthAdjust="spacingAndGlyphs">国际黄金日线图</text></g>
<rect x="780.2" y="82.8" width="61.8" height="22.1" fill="#0ea389"/>
<g filter="url(#gray)"><text x="785.3" y="99.6" class="ax" fill="#ffffff" textLength="55" lengthAdjust="spacingAndGlyphs">4467.67</text></g>
<g filter="url(#gray)"><text x="784.8" y="10.7" class="ax" fill="#d9434e" textLength="57" lengthAdjust="spacingAndGlyphs">4789.52</text></g>
<g filter="url(#gray)"><text x="784.8" y="186.8" class="ax" fill="#12a188" textLength="56.4" lengthAdjust="spacingAndGlyphs">4190.46</text></g>
<g filter="url(#gray)"><text x="785.3" y="371.6" class="ax" fill="#12a188" textLength="56" lengthAdjust="spacingAndGlyphs">3591.40</text></g>
<g filter="url(#gray)"><text x="785.3" y="556.4" class="ax" fill="#12a188" textLength="56" lengthAdjust="spacingAndGlyphs">2992.35</text></g>
<path d="M827.9,241.7 L842,235.1 L842,308.1 L827.9,301.5 Z" fill="#ececf3"/>
<path d="M842.6,264.9 L835.2,271.6 L842.6,278.3" fill="none" stroke="#5a6072" stroke-width="1.6"/>
</svg>
</body>
</html>
